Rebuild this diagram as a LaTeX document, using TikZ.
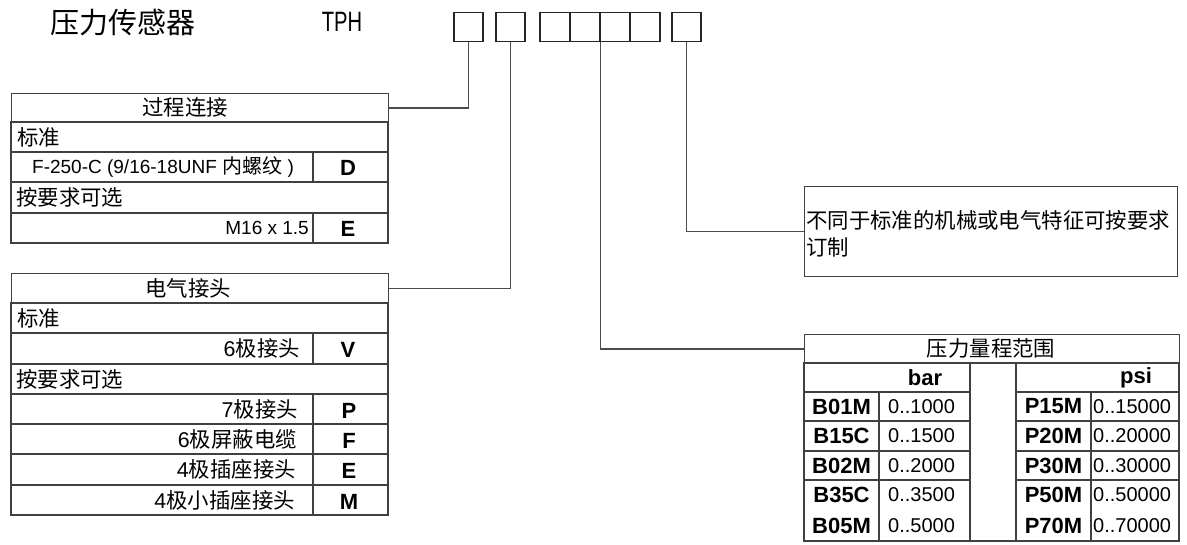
\documentclass[tikz,border=0pt]{standalone}
\usepackage{fontspec}
\setmainfont{Liberation Sans}
\newfontfamily\cjk{Noto Sans CJK SC}
\begin{document}
\begin{tikzpicture}[x=1pt,y=-1pt,
  ln/.style={draw=black!75, line width=1.2pt},
  conn/.style={draw=black!70, line width=1.2pt},
  codebox/.style={draw=black!85, line width=1.5pt, minimum width=29pt, minimum height=29pt, inner sep=0pt, anchor=north west},
  cellbox/.style={draw=black!75, line width=1.2pt, inner sep=0pt, anchor=north west},
  txt/.style={inner sep=0pt, font=\fontsize{19}{22}\selectfont},
  ctxt/.style={inner sep=0pt, font=\fontsize{21.4}{24}\selectfont\cjk},
  btxt/.style={inner sep=0pt, font=\fontsize{22}{24}\selectfont\bfseries},
  vtxt/.style={inner sep=0pt, font=\fontsize{20}{22}\selectfont}
]
\useasboundingbox (0,0) rectangle (1187,545);

% title
\node[inner sep=0pt, font=\fontsize{29}{32}\selectfont\cjk] (title) at (123,23) {压力传感器};
\node[inner sep=0pt, font=\fontsize{28}{30}\selectfont] (tph) at (342,22) {\scalebox{0.72}[1]{TPH}};

% code boxes
\node[codebox] (b1) at (453,12) {};
\node[codebox] (b2) at (495,12) {};
\node[codebox, minimum width=30pt] (b3) at (539,12) {};
\node[codebox, minimum width=30pt] (b4) at (569,12) {};
\node[codebox, minimum width=30pt] (b5) at (599,12) {};
\node[codebox, minimum width=30pt] (b6) at (629,12) {};
\node[codebox] (b7) at (671,12) {};

% ---------- table 1: process connection
\node[cellbox, minimum width=377pt, minimum height=29pt] (h1) at (11,93) {};
\draw[ln] (11,122) rectangle (388,243);
\foreach \yy in {152,182,213} \draw[ln] (11,\yy) -- (388,\yy);
\draw[ln] (313,152) -- (313,182);
\draw[ln] (313,213) -- (313,243);
\node[ctxt] (h1t) at (185,107.5) {过程连接};
\node[ctxt, anchor=west] (t1a) at (17,137) {标准};
\node[txt] (t1b) at (163,167) {F-250-C (9/16-18UNF {\cjk\fontsize{20}{22}\selectfont 内螺纹} )};
\node[btxt] (t1c) at (348,167.5) {D};
\node[ctxt, anchor=west] (t1d) at (16,197.5) {按要求可选};
\node[txt, anchor=east] (t1e) at (309,228) {M16 x 1.5};
\node[btxt] (t1f) at (348,228.5) {E};

% ---------- table 2: electrical connector
\node[cellbox, minimum width=377pt, minimum height=30pt] (h2) at (11,273) {};
\draw[ln] (11,303) rectangle (388,515);
\foreach \yy in {333,364,394,424,454,485} \draw[ln] (11,\yy) -- (388,\yy);
\draw[ln] (313,333) -- (313,364);
\draw[ln] (313,394) -- (313,515);
\node[ctxt] (h2t) at (188,288) {电气接头};
\node[ctxt, anchor=west] (t2a) at (17,318) {标准};
\node[ctxt, anchor=east] (t2b) at (300,348.5) {{\fontspec{Liberation Sans}6}极接头};
\node[btxt] (t2c) at (348,350) {V};
\node[ctxt, anchor=west] (t2d) at (16,379) {按要求可选};
\node[ctxt, anchor=east] (t2e) at (298,409) {{\fontspec{Liberation Sans}7}极接头};
\node[btxt] (t2f) at (349,410.5) {P};
\node[ctxt, anchor=east] (t2g) at (297,439) {{\fontspec{Liberation Sans}6}极屏蔽电缆};
\node[btxt] (t2h) at (349,440.5) {F};
\node[ctxt, anchor=east] (t2i) at (296,469.5) {{\fontspec{Liberation Sans}4}极插座接头};
\node[btxt] (t2j) at (349,471) {E};
\node[ctxt, anchor=east] (t2k) at (295,500) {{\fontspec{Liberation Sans}4}极小插座接头};
\node[btxt] (t2l) at (349,501.5) {M};

% ---------- description box
\node[cellbox, minimum width=373pt, minimum height=90pt] (d) at (804,186) {};
\node[ctxt, anchor=west] (d1) at (806,220) {不同于标准的机械或电气特征可按要求};
\node[ctxt, anchor=west] (d2) at (806,247) {订制};

% ---------- pressure range table
\node[cellbox, minimum width=375pt, minimum height=29pt] (p0) at (804,334) {};
\draw[ln] (804,363) rectangle (1179,541);
\draw[ln] (970,363) -- (970,541);
\draw[ln] (1016,363) -- (1016,541);
\draw[ln] (879,392) -- (879,541);
\draw[ln] (1091,392) -- (1091,541);
\foreach \yy in {392,421,451,480} {
  \draw[ln] (804,\yy) -- (970,\yy);
  \draw[ln] (1016,\yy) -- (1179,\yy);
}
\node[ctxt] (p0t) at (991,348.5) {压力量程范围};
\node[btxt] (pbar) at (925,377.5) {bar};
\node[btxt] (ppsi) at (1136,377.5) {psi};
\foreach \c/\v/\pc/\pv/\yy [count=\i] in {B01M/0..1000/P15M/0..15000/406.5, B15C/0..1500/P20M/0..20000/436, B02M/0..2000/P30M/0..30000/465.5, B35C/0..3500/P50M/0..50000/495, B05M/0..5000/P70M/0..70000/525.5} {
  \node[btxt] (bc\i) at (841.5,\yy) {\c};
  \node[vtxt, anchor=west] (bv\i) at (888,\yy) {\v};
  \node[btxt] (pc\i) at (1053.5,\yy) {\pc};
  \node[vtxt, anchor=west] (pv\i) at (1093,\yy) {\pv};
}

% ---------- connectors
\draw[conn] (b1.south) |- (h1.east);
\draw[conn] (b2.south) |- (h2.east);
\draw[conn] (b4.south east) |- (p0.west);
\draw[conn] (b7.south) |- (d.west);
\end{tikzpicture}
\end{document}
